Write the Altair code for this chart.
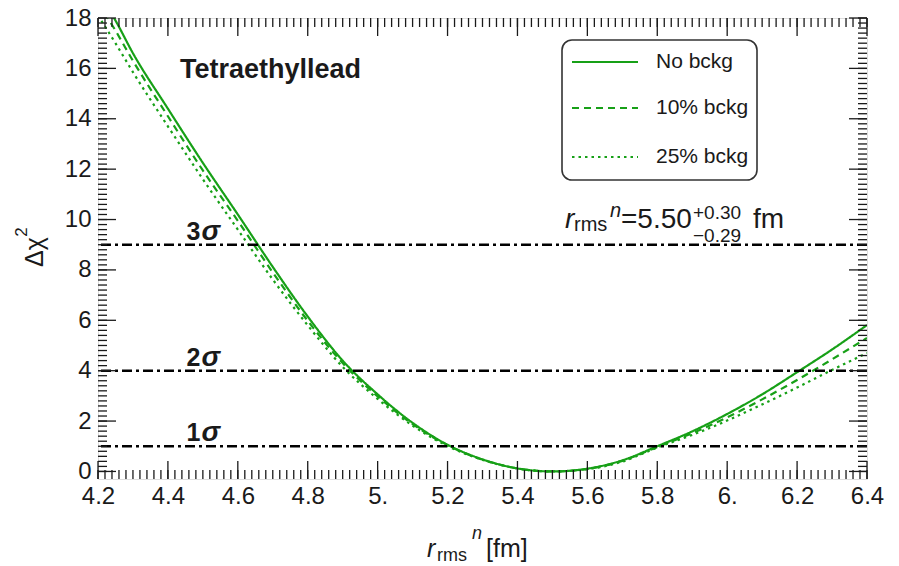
import altair as alt
import pandas as pd
import numpy as np

# ---------------- data ----------------
r_values = [4.20, 4.25, 4.30, 4.40, 4.50, 4.60, 4.70, 4.80, 4.90, 5.00, 5.10, 5.20,
            5.30, 5.40, 5.50, 5.60, 5.70, 5.80, 5.90, 6.00, 6.10, 6.20, 6.30, 6.40]
chi_no_bckg = [19.0, 17.9, 16.6, 14.4, 12.25, 10.2, 8.12, 6.15, 4.4, 3.06, 1.93, 1.06,
               0.48, 0.12, 0.0, 0.11, 0.44, 1.0, 1.59, 2.28, 3.06, 3.94, 4.84, 5.81]
chi_10_bckg = [18.6, 17.5, 16.3, 14.1, 11.95, 9.95, 7.9, 5.98, 4.3, 2.98, 1.88, 1.04,
               0.47, 0.12, 0.0, 0.10, 0.42, 0.97, 1.52, 2.15, 2.86, 3.63, 4.45, 5.30]
chi_25_bckg = [18.1, 17.0, 15.85, 13.7, 11.6, 9.6, 7.62, 5.8, 4.15, 2.88, 1.82, 1.01,
               0.46, 0.12, 0.0, 0.09, 0.39, 0.95, 1.45, 2.02, 2.66, 3.33, 4.03, 4.70]
series_names = ["No bckg", "10% bckg", "25% bckg"]
sigma_levels = [1, 4, 9]
sigma_digits = ["1", "2", "3"]
x_tick_values = [4.2, 4.4, 4.6, 4.8, 5.0, 5.2, 5.4, 5.6, 5.8, 6.0, 6.2, 6.4]
y_tick_values = [0, 2, 4, 6, 8, 10, 12, 14, 16, 18]

# ---------------- layout ----------------
W, H = 769, 461
OX, OY = 98, 18          # plot origin in the page
GREEN = "#17a017"
INK = "#1a1a1a"
FONT = "Liberation Sans"

xscale = alt.Scale(domain=[4.2, 6.4], nice=False, zero=False)
yscale = alt.Scale(domain=[-0.3, 18], nice=False, zero=False)

rows = []
for name, vals in zip(series_names, [chi_no_bckg, chi_10_bckg, chi_25_bckg]):
    for r, c in zip(r_values, vals):
        rows.append({"r": r, "chi": c, "series": name})
curves_df = pd.DataFrame(rows)

dash_range = [[1, 0], [7, 5], [2.5, 4]]

curves = alt.Chart(curves_df).mark_line(clip=True, strokeWidth=2.2, color=GREEN,
                                         interpolate="monotone").encode(
    x=alt.X("r:Q", scale=xscale,
            axis=alt.Axis(values=x_tick_values, ticks=False, domain=False, grid=False,
                          labelFontSize=24, labelFont=FONT, labelColor=INK, labelPadding=5,
                          labelFlush=False, labelOverlap=False,
                          labelExpr="datum.value == 5 ? '5.' : datum.value == 6 ? '6.' : format(datum.value, '.1f')",
                          title=None)),
    y=alt.Y("chi:Q", scale=yscale,
            axis=alt.Axis(values=y_tick_values, ticks=False, domain=False, grid=False,
                          labelFontSize=24, labelFont=FONT, labelColor=INK, labelPadding=7,
                          labelFlush=False, labelOverlap=False,
                          minExtent=93, maxExtent=93, title=None)),
    strokeDash=alt.StrokeDash("series:N", scale=alt.Scale(domain=series_names, range=dash_range),
                              legend=None),
    detail="series:N",
)

# ---------------- inward ticks on all four sides ----------------
one = pd.DataFrame({"a": [0]})
x_minor = [round(v, 2) for v in np.arange(4.2, 6.4001, 0.02)]
x_major = [round(v, 2) for v in np.arange(4.2, 6.4001, 0.2)]
y_minor = [round(v, 2) for v in np.arange(0, 18.001, 0.2)]
y_major = [round(v, 2) for v in np.arange(0, 18.001, 2)]

def xticks(vals, length):
    d = pd.DataFrame({"t": vals})
    bot = alt.Chart(d).mark_rule(color=INK, strokeWidth=1.3).encode(
        x=alt.X("t:Q", scale=xscale), y=alt.value(H), y2=alt.value(H - length))
    top = alt.Chart(d).mark_rule(color=INK, strokeWidth=1.3).encode(
        x=alt.X("t:Q", scale=xscale), y=alt.value(0), y2=alt.value(length))
    return [bot, top]

def yticks(vals, length):
    d = pd.DataFrame({"t": vals})
    left = alt.Chart(d).mark_rule(color=INK, strokeWidth=1.3).encode(
        y=alt.Y("t:Q", scale=yscale), x=alt.value(0), x2=alt.value(length))
    right = alt.Chart(d).mark_rule(color=INK, strokeWidth=1.3).encode(
        y=alt.Y("t:Q", scale=yscale), x=alt.value(W), x2=alt.value(W - length))
    return [left, right]

tick_layers = xticks(x_minor, 9) + xticks(x_major, 18) + yticks(y_minor, 9) + yticks(y_major, 18)

# ---------------- sigma lines ----------------
sig_df = pd.DataFrame({"level": sigma_levels, "digit": sigma_digits, "x": [4.453] * 3})
sig_lines = alt.Chart(sig_df).mark_rule(color="black", strokeWidth=2.6,
                                        strokeDash=[10, 4, 3, 4]).encode(
    y=alt.Y("level:Q", scale=yscale))
sig_digit = alt.Chart(sig_df).mark_text(align="left", baseline="alphabetic", dy=-5,
                                        fontSize=25, fontWeight="bold", font=FONT,
                                        color=INK).encode(
    x=alt.X("x:Q", scale=xscale), y=alt.Y("level:Q", scale=yscale),
    text="digit:N")
sig_sigma = alt.Chart(sig_df).mark_text(align="left", baseline="alphabetic", dy=-5, dx=15,
                                        fontSize=28, fontWeight="bold", fontStyle="italic",
                                        font=FONT, color=INK).encode(
    x=alt.X("x:Q", scale=xscale), y=alt.Y("level:Q", scale=yscale),
    text=alt.value("σ"))

# ---------------- text helpers (annotations, titles) ----------------
def txt(s, px, py, size, weight="normal", style="normal", align="left",
        baseline="alphabetic", angle=0):
    kw = dict(align=align, baseline=baseline, fontSize=size, fontWeight=weight,
              fontStyle=style, font=FONT, color=INK)
    if angle:
        kw["angle"] = angle
    return alt.Chart(one).mark_text(**kw).encode(
        x=alt.value(px - OX), y=alt.value(py - OY), text=alt.value(s))

texts = [
    txt("Tetraethyllead", 180, 78, 27, weight="bold"),
    # r_rms^n = 5.50 +0.30 -0.29 fm
    txt("r", 565, 228, 28, style="italic"),
    txt("rms", 574, 231, 20),
    txt("n", 610, 217, 20, style="italic"),
    txt("=5.50", 621, 228, 28),
    txt("+0.30", 693, 219, 19),
    txt("\u22120.29", 693, 242, 19),
    txt("fm", 753, 228, 28),
    # x axis title
    txt("r", 427, 557, 25, style="italic"),
    txt("rms", 437, 561, 18),
    txt("n", 472, 539, 18, style="italic"),
    txt("[fm]", 486, 557, 25),
    # y axis title
    txt("\u0394\u03c7", 43, 252, 25, angle=270, align="center"),
    txt("2", 27, 232, 17, angle=270, align="center"),
]

# ---------------- legend box ----------------
legend_layers = [
    alt.Chart(one).mark_rect(fill="white", stroke="#333", strokeWidth=1.6,
                             cornerRadius=10).encode(
        x=alt.value(562 - OX), x2=alt.value(757 - OX),
        y=alt.value(40 - OY), y2=alt.value(180 - OY))
]
legend_rows_y = [62, 108, 157]
for name, dash, ly in zip(series_names, dash_range, legend_rows_y):
    legend_layers.append(
        alt.Chart(one).mark_rule(color=GREEN, strokeWidth=2.2, strokeDash=dash).encode(
            x=alt.value(572 - OX), x2=alt.value(638 - OX), y=alt.value(ly - OY)))
    legend_layers.append(txt(name, 656, ly, 21, baseline="middle"))

chart = alt.layer(
    curves, sig_lines, *tick_layers, sig_digit, sig_sigma, *legend_layers, *texts
).properties(
    width=W, height=H,
    padding={"left": 5, "top": 6, "right": 5, "bottom": 0},
).configure_view(
    stroke=INK, strokeWidth=2
).configure(background="white")

chart.save("out.html", embed_options={"renderer": "svg", "actions": False})
